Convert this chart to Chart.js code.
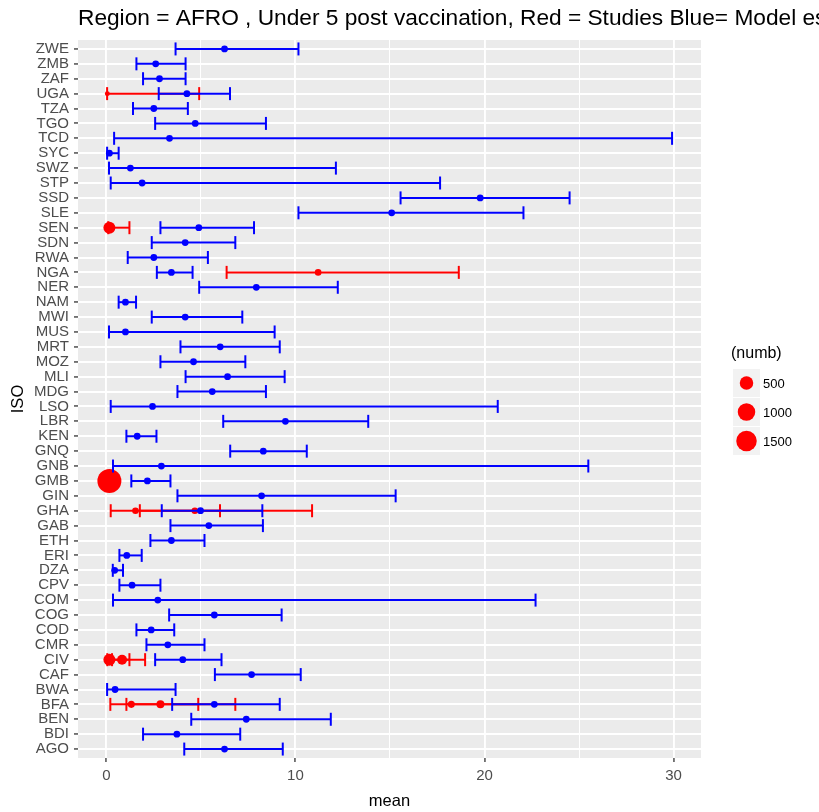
<!DOCTYPE html>
<html>
<head>
<meta charset="utf-8">
<script src="https://cdn.jsdelivr.net/npm/chart.js@4.4.1/dist/chart.umd.min.js"></script>
<style>
  body { margin: 0; background: #fff; }
  canvas { display: block; }
</style>
</head>
<body>
<canvas id="chart" width="819" height="812"></canvas>
<script>
// countries, bottom (AGO) to top (ZWE)
const isoCodes = ['AGO','BDI','BEN','BFA','BWA','CAF','CIV','CMR','COD','COG','COM','CPV','DZA','ERI','ETH','GAB',
  'GHA','GIN','GMB','GNB','GNQ','KEN','LBR','LSO','MDG','MLI','MOZ','MRT','MUS','MWI','NAM','NER','NGA','RWA',
  'SDN','SEN','SLE','SSD','STP','SWZ','SYC','TCD','TGO','TZA','UGA','ZAF','ZMB','ZWE'];

// model estimates (blue)
const modelMean = [6.25,3.73,7.40,5.71,0.46,7.68,4.04,3.25,2.37,5.71,2.72,1.36,0.44,1.08,3.44,5.42,
  4.98,8.21,2.17,2.91,8.30,1.63,9.47,2.44,5.60,6.41,4.61,6.02,1.01,4.17,1.01,7.93,3.44,2.51,
  4.17,4.89,15.09,19.77,1.89,1.27,0.16,3.34,4.70,2.51,4.26,2.81,2.61,6.25];
const modelLow = [4.12,1.94,4.49,3.48,0.04,5.74,2.58,2.12,1.59,3.32,0.35,0.69,0.34,0.69,2.33,3.39,
  2.93,3.76,1.32,0.35,6.55,1.06,6.18,0.23,3.76,4.19,2.86,3.92,0.14,2.40,0.65,4.91,2.67,1.13,
  2.40,2.86,10.16,15.56,0.23,0.14,0.04,0.41,2.58,1.41,2.77,1.94,1.59,3.66];
const modelHigh = [9.33,7.08,11.87,9.17,3.66,10.28,6.09,5.19,3.59,9.27,22.7,2.86,0.88,1.87,5.19,8.28,
  8.25,15.3,3.39,25.49,10.6,2.65,13.85,20.7,8.44,9.43,7.35,9.17,8.90,7.19,1.57,12.24,4.56,5.37,
  6.82,7.81,22.06,24.5,17.65,12.14,0.65,29.92,8.44,4.31,6.54,4.19,4.19,10.16];

// studies (red)
const studyIso = ['UGA','SEN','NGA','GMB','GHA','GHA','CIV','CIV','BFA','BFA'];
const studyMean = [0.05,0.16,11.2,0.16,1.54,4.68,0.16,0.83,1.32,2.86];
const studyLow = [0.04,0.10,6.36,0.16,0.23,1.77,0.05,0.30,0.21,1.06];
const studyHigh = [4.91,1.22,18.64,0.16,6.01,10.88,1.22,2.05,4.86,6.82];
const studyNumb = [5,352,39,2200,39,39,352,198,50,88];

const xTicks = [0,5,10,15,20,25,30];
const xTickLabels = ['0','','10','','20','','30'];
const legendNumb = [500,1000,1500];

const BLUE = '#0000FF';
const RED = '#FF0000';
const FONT = "'Liberation Sans', Arial, sans-serif";

const rowOf = code => isoCodes.indexOf(code) + 1;
const numbRadius = n => 2 + 10 * Math.sqrt(n / 2200);

function intervalSet(lo, hi, y, color) {
  return {
    type: 'scatter',
    showLine: true,
    data: [{x: lo, y: y}, {x: hi, y: y}],
    borderColor: color,
    borderWidth: 2,
    pointStyle: 'line',
    rotation: 90,
    pointRadius: 6.5,
    pointBorderColor: color,
    pointBorderWidth: 2
  };
}

const datasets = [];
// drawn last -> on top
datasets.push({
  label: 'model',
  data: modelMean.map((m, i) => ({x: m, y: i + 1})),
  backgroundColor: BLUE,
  borderWidth: 0,
  pointRadius: 3.4
});
modelMean.forEach((m, i) => datasets.push(intervalSet(modelLow[i], modelHigh[i], i + 1, BLUE)));
datasets.push({
  label: 'studies',
  data: studyMean.map((m, i) => ({x: m, y: rowOf(studyIso[i])})),
  backgroundColor: RED,
  borderWidth: 0,
  pointRadius: studyNumb.map(numbRadius)
});
studyMean.forEach((m, i) => datasets.push(intervalSet(studyLow[i], studyHigh[i], rowOf(studyIso[i]), RED)));

const panelBg = {
  id: 'panelBg',
  beforeDraw(chart) {
    const {ctx, chartArea: a} = chart;
    ctx.save();
    ctx.fillStyle = '#EBEBEB';
    ctx.fillRect(a.left, a.top, a.right - a.left, a.bottom - a.top);
    ctx.restore();
  }
};

const titleAndLegend = {
  id: 'titleAndLegend',
  afterDraw(chart) {
    const ctx = chart.ctx;
    ctx.save();
    ctx.fillStyle = '#000';
    ctx.textBaseline = 'alphabetic';
    ctx.textAlign = 'left';
    ctx.font = '22.7px ' + FONT;
    ctx.fillText('Region = AFRO , Under 5 post vaccination, Red = Studies Blue= Model estimates', 78, 25);

    // size legend
    ctx.font = '16px ' + FONT;
    ctx.textBaseline = 'middle';
    ctx.fillText('(numb)', 731, 354);
    const centers = [383, 412, 441];
    legendNumb.forEach((n, i) => {
      const cy = centers[i];
      ctx.fillStyle = '#F2F2F2';
      ctx.fillRect(733, cy - 14, 27, 28);
      ctx.fillStyle = RED;
      ctx.beginPath();
      ctx.arc(746.5, cy, numbRadius(n), 0, Math.PI * 2);
      ctx.fill();
      ctx.fillStyle = '#000';
      ctx.font = '13px ' + FONT;
      ctx.fillText(String(n), 763, cy + 1);
    });
    ctx.restore();
  }
};

new Chart(document.getElementById('chart'), {
  type: 'scatter',
  data: { datasets: datasets },
  plugins: [panelBg, titleAndLegend],
  options: {
    responsive: false,
    animation: false,
    events: [],
    layout: { padding: { top: 40, right: 118, left: 0, bottom: 0 } },
    plugins: { legend: { display: false }, tooltip: { enabled: false } },
    scales: {
      x: {
        type: 'linear',
        min: -1.5,
        max: 31.45,
        afterBuildTicks: s => { s.ticks = xTicks.map(v => ({value: v})); },
        afterFit: s => { s.height = 54; },
        border: { display: false },
        grid: {
          color: '#FFFFFF',
          lineWidth: c => (c.tick && c.tick.value % 10 === 0 ? 1.9 : 1),
          tickColor: c => (c.tick && c.tick.value % 10 === 0 ? '#333333' : 'rgba(0,0,0,0)'),
          tickLength: 4,
          tickWidth: 1.3
        },
        ticks: {
          callback: (v, i) => xTickLabels[i],
          color: '#4D4D4D',
          font: { family: FONT, size: 15 },
          padding: 5,
          maxRotation: 0,
          autoSkip: false
        },
        title: {
          display: true,
          text: 'mean',
          color: '#000',
          font: { family: FONT, size: 16.5 },
          padding: { top: 0, bottom: 1 }
        }
      },
      y: {
        type: 'linear',
        min: 0.4,
        max: 48.6,
        afterBuildTicks: s => { s.ticks = isoCodes.map((c, i) => ({value: i + 1})); },
        afterFit: s => { s.width = 78; },
        border: { display: false },
        grid: {
          color: '#FFFFFF',
          lineWidth: 1.9,
          tickColor: '#333333',
          tickLength: 4,
          tickWidth: 1.3
        },
        ticks: {
          callback: (v, i) => isoCodes[i],
          color: '#4D4D4D',
          font: { family: FONT, size: 15 },
          padding: 5,
          autoSkip: false
        },
        title: {
          display: true,
          text: 'ISO',
          color: '#000',
          font: { family: FONT, size: 16.5 },
          padding: { top: 9, bottom: 0 }
        }
      }
    }
  }
});
</script>
</body>
</html>
